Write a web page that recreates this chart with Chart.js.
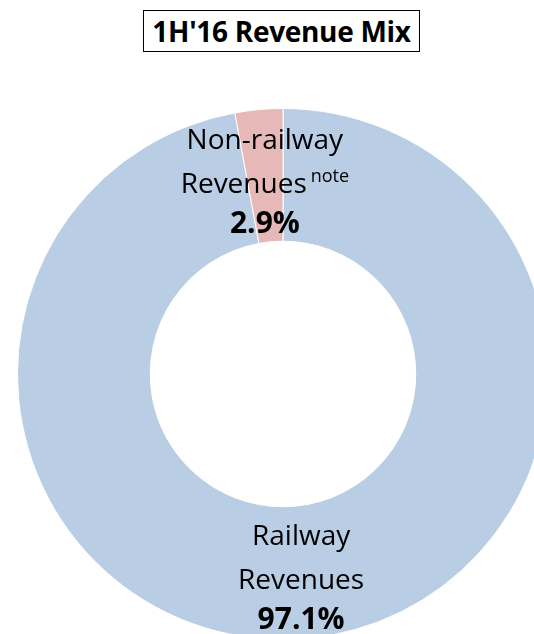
<!DOCTYPE html>
<html lang="en">
<head>
    <meta charset="UTF-8">
    <title>1H'16 Revenue Mix</title>
    <script src="https://cdn.jsdelivr.net/npm/chart.js"></script>
    <style>
        html, body {
            margin: 0;
            padding: 0;
            background: #ffffff;
            overflow: hidden;
            font-family: "Open Sans", "Noto Sans", sans-serif;
        }
        .page {
            position: relative;
            width: 534px;
            height: 634px;
            overflow: hidden;
        }
        .title {
            position: absolute;
            left: 143px;
            top: 10px;
            width: 275px;
            height: 40px;
            border: 1.5px solid #000;
            font-weight: bold;
            font-size: 28px;
            line-height: 40px;
            text-align: center;
            color: #000;
            letter-spacing: -0.3px;
        }
        .chart-box {
            position: absolute;
            left: 0;
            top: 0;
            width: 566px;
            height: 748px;
        }
    </style>
</head>
<body>
    <div class="page">
        <div class="title">1H'16 Revenue Mix</div>
        <div class="chart-box">
            <canvas id="mixChart" width="566" height="748"></canvas>
        </div>
    </div>

    <script>
        // Data
        const categories = ['Railway Revenues', 'Non-railway Revenues'];
        const labelLines = [['Railway', 'Revenues'], ['Non-railway', 'Revenues']];
        const labelNotes = ['', 'note'];
        const shares = [97.1, 2.9];
        const colors = ['#B9CDE5', '#E6B9B8'];

        // draws the labels at the middle of each slice
        const sliceLabels = {
            id: 'sliceLabels',
            afterDatasetsDraw(chart) {
                const ctx = chart.ctx;
                const arcs = chart.getDatasetMeta(0).data;
                ctx.save();
                ctx.fillStyle = '#000';
                ctx.textAlign = 'center';
                ctx.textBaseline = 'alphabetic';
                arcs.forEach((arc, i) => {
                    const p = arc.tooltipPosition();
                    const lines = labelLines[i];
                    ctx.font = '28px "Open Sans"';
                    ctx.fillText(lines[0], p.x, p.y - 27);
                    const w = ctx.measureText(lines[1]).width;
                    let nw = 0;
                    if (labelNotes[i]) {
                        ctx.font = '18px "Open Sans"';
                        nw = ctx.measureText(labelNotes[i]).width + 4;
                    }
                    ctx.font = '28px "Open Sans"';
                    ctx.textAlign = 'left';
                    const x0 = p.x - (w + nw) / 2;
                    ctx.fillText(lines[1], x0, p.y + 17);
                    if (labelNotes[i]) {
                        ctx.font = '18px "Open Sans"';
                        ctx.fillText(labelNotes[i], x0 + w + 4, p.y + 6);
                    }
                    ctx.textAlign = 'center';
                    ctx.font = 'bold 30px "Open Sans"';
                    ctx.fillText(shares[i].toFixed(1) + '%', p.x, p.y + 57);
                });
                ctx.restore();
            }
        };

        new Chart(document.getElementById('mixChart').getContext('2d'), {
            type: 'doughnut',
            data: {
                labels: categories,
                datasets: [{
                    data: shares,
                    backgroundColor: colors,
                    borderColor: '#ffffff',
                    borderWidth: 1
                }]
            },
            options: {
                responsive: false,
                animation: false,
                cutout: '50%',
                layout: {
                    padding: { left: 17, right: 17, top: 108, bottom: 108 }
                },
                plugins: {
                    legend: { display: false },
                    tooltip: { enabled: false }
                }
            },
            plugins: [sliceLabels]
        });
    </script>
</body>
</html>
